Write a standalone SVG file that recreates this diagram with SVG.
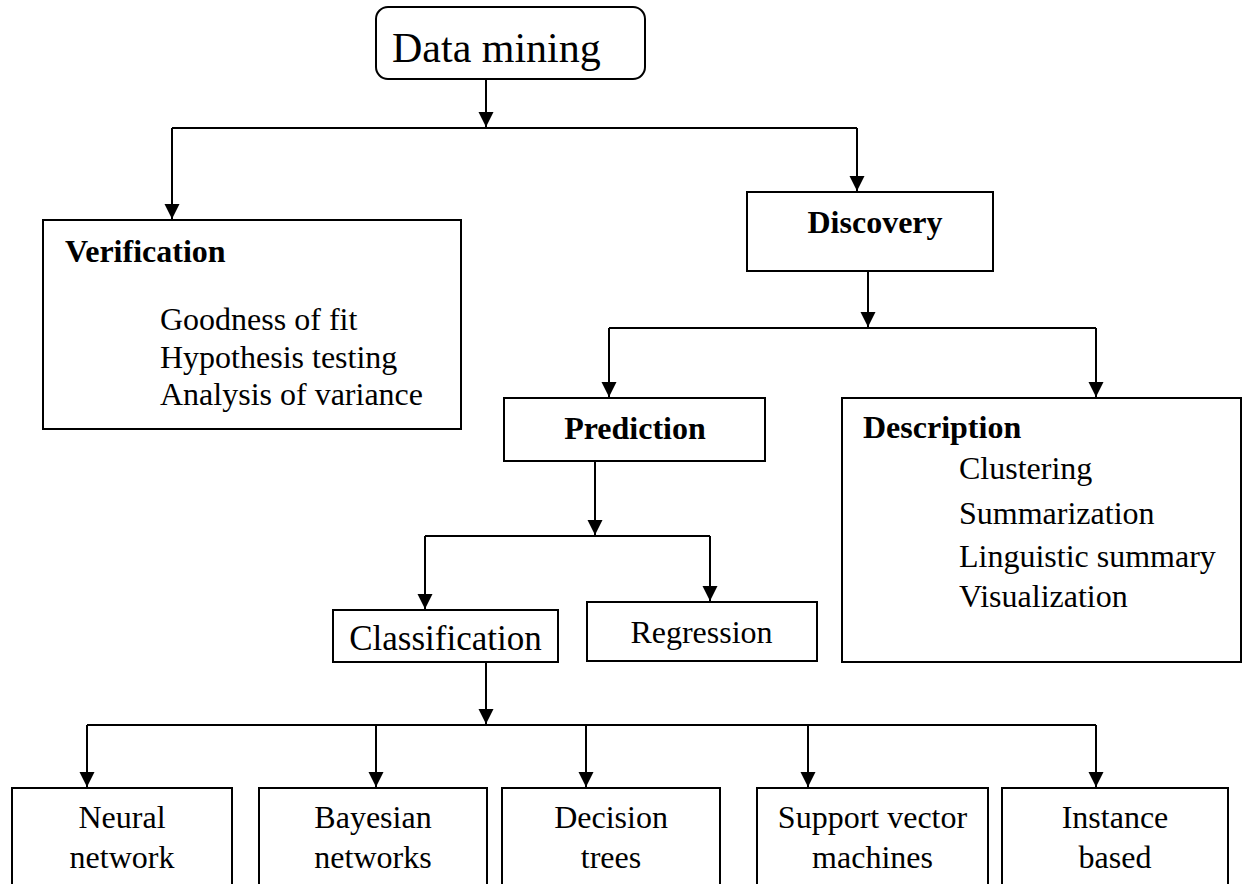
<svg xmlns="http://www.w3.org/2000/svg" width="1243" height="884" viewBox="0 0 1243 884">
<defs>
<marker id="arr" markerUnits="userSpaceOnUse" markerWidth="18" markerHeight="18" refX="15" refY="8" orient="auto">
<path d="M0,0.5 L15,8 L0,15.5 z" fill="#000"/>
</marker>
<style>
.box{fill:#fff;stroke:#000;stroke-width:2}
.t{font-family:"Liberation Serif","Times New Roman",serif;font-size:32px;fill:#000}
.b{font-weight:bold}
.c{text-anchor:middle}
.ln{fill:none;stroke:#000;stroke-width:2}
</style>
</defs>
<rect width="1243" height="884" fill="#fff"/>
<g id="connectors">
<path class="ln" d="M486,79 V127" marker-end="url(#arr)"/>
<path class="ln" d="M172,128 H857"/>
<path class="ln" d="M172,128 V219" marker-end="url(#arr)"/>
<path class="ln" d="M857,128 V191" marker-end="url(#arr)"/>
<path class="ln" d="M868,271 V327" marker-end="url(#arr)"/>
<path class="ln" d="M609,328 H1096"/>
<path class="ln" d="M609,328 V397" marker-end="url(#arr)"/>
<path class="ln" d="M1096,328 V397" marker-end="url(#arr)"/>
<path class="ln" d="M595,461 V535" marker-end="url(#arr)"/>
<path class="ln" d="M425,536 H710"/>
<path class="ln" d="M425,536 V609" marker-end="url(#arr)"/>
<path class="ln" d="M710,536 V601" marker-end="url(#arr)"/>
<path class="ln" d="M486,662 V724" marker-end="url(#arr)"/>
<path class="ln" d="M87,725 H1096"/>
<path class="ln" d="M87,725 V787" marker-end="url(#arr)"/>
<path class="ln" d="M376,725 V787" marker-end="url(#arr)"/>
<path class="ln" d="M586,725 V787" marker-end="url(#arr)"/>
<path class="ln" d="M808,725 V787" marker-end="url(#arr)"/>
<path class="ln" d="M1096,725 V787" marker-end="url(#arr)"/>
</g>
<g id="datamining">
<rect class="box" x="376" y="7" width="269" height="72" rx="12"/>
<text class="t" x="392" y="62" style="font-size:42px">Data mining</text>
</g>
<g id="verification">
<rect class="box" x="43" y="220" width="418" height="209"/>
<text class="t b" x="65" y="262">Verification</text>
<text class="t" x="160" y="330">Goodness of fit</text>
<text class="t" x="160" y="368">Hypothesis testing</text>
<text class="t" x="160" y="405">Analysis of variance</text>
</g>
<g id="discovery">
<rect class="box" x="747" y="192" width="246" height="79"/>
<text class="t b c" x="875" y="233">Discovery</text>
</g>
<g id="prediction">
<rect class="box" x="504" y="398" width="261" height="63"/>
<text class="t b c" x="635" y="439">Prediction</text>
</g>
<g id="description">
<rect class="box" x="842" y="398" width="399" height="264"/>
<text class="t b" x="863" y="438">Description</text>
<text class="t" x="959" y="479">Clustering</text>
<text class="t" x="959" y="524">Summarization</text>
<text class="t" x="959" y="567">Linguistic summary</text>
<text class="t" x="959" y="607">Visualization</text>
</g>
<g id="classification">
<rect class="box" x="333" y="610" width="225" height="52"/>
<text class="t c" x="445.5" y="650" style="font-size:35px">Classification</text>
</g>
<g id="regression">
<rect class="box" x="587" y="602" width="230" height="59"/>
<text class="t c" x="701.5" y="643">Regression</text>
</g>
<g id="neural">
<rect class="box" x="12" y="788" width="220" height="120"/>
<text class="t c" x="122" y="828">Neural</text>
<text class="t c" x="122" y="868">network</text>
</g>
<g id="bayesian">
<rect class="box" x="259" y="788" width="228" height="120"/>
<text class="t c" x="373" y="828">Bayesian</text>
<text class="t c" x="373" y="868">networks</text>
</g>
<g id="decision">
<rect class="box" x="502" y="788" width="218" height="120"/>
<text class="t c" x="611" y="828">Decision</text>
<text class="t c" x="611" y="868">trees</text>
</g>
<g id="svm">
<rect class="box" x="757" y="788" width="231" height="120"/>
<text class="t c" x="872.5" y="828">Support vector</text>
<text class="t c" x="872.5" y="868">machines</text>
</g>
<g id="instance">
<rect class="box" x="1002" y="788" width="226" height="120"/>
<text class="t c" x="1115" y="828">Instance</text>
<text class="t c" x="1115" y="868">based</text>
</g>
</svg>
